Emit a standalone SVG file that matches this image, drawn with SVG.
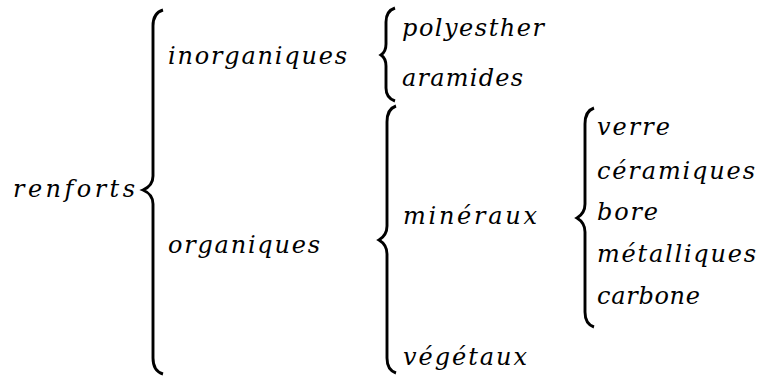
<svg xmlns="http://www.w3.org/2000/svg" width="761" height="379" viewBox="0 0 761 379">
<style>
.b{fill:none;stroke:#000;stroke-width:2.9;stroke-linecap:butt}
</style>
<rect width="761" height="379" fill="#fff"/>
<g id="connectors">
<path class="b" d="M163,10 C156,12 153,17 153,26 L153,176 C153,183 150,187 143,190 C150,193 153,197 153,204 L153,358 C153,367 156,372 163,374"/>
<path class="b" d="M395,8 C389,10 386,15 386,22 L386,44 C386,50 384,53 381,55 C384,57 386,60 386,66 L386,88 C386,95 389,99 395,101"/>
<path class="b" d="M396,106 C390,108 387,113 387,122 L387,226 C387,233 384,237 379,240 C384,243 387,247 387,254 L387,358 C387,366 390,371 396,373"/>
<path class="b" d="M594,108 C588,110 585,115 585,124 L585,204 C585,211 582,215 577,218 C582,221 585,225 585,232 L585,312 C585,320 588,325 594,327"/>
</g>
<g font-family="DejaVu Serif, serif" font-style="italic" font-size="24" fill="#000">
<g id="renforts"><text x="13" y="197" textLength="122" lengthAdjust="spacing">renforts</text></g>
<g id="inorganiques"><text x="168" y="64" textLength="179" lengthAdjust="spacing">inorganiques</text></g>
<g id="organiques"><text x="168" y="253" textLength="152" lengthAdjust="spacing">organiques</text></g>
<g id="polyesther"><text x="402" y="36" textLength="142" lengthAdjust="spacing">polyesther</text></g>
<g id="aramides"><text x="402" y="86" textLength="121" lengthAdjust="spacing">aramides</text></g>
<g id="mineraux"><text x="403" y="224" textLength="134" lengthAdjust="spacing">minéraux</text></g>
<g id="vegetaux"><text x="403" y="365" textLength="124" lengthAdjust="spacing">végétaux</text></g>
<g id="verre"><text x="597" y="135" textLength="73" lengthAdjust="spacing">verre</text></g>
<g id="ceramiques"><text x="597" y="179" textLength="158" lengthAdjust="spacing">céramiques</text></g>
<g id="bore"><text x="597" y="220" textLength="61" lengthAdjust="spacing">bore</text></g>
<g id="metalliques"><text x="597" y="262" textLength="159" lengthAdjust="spacing">métalliques</text></g>
<g id="carbone"><text x="597" y="304" textLength="103" lengthAdjust="spacing">carbone</text></g>
</g>
</svg>
